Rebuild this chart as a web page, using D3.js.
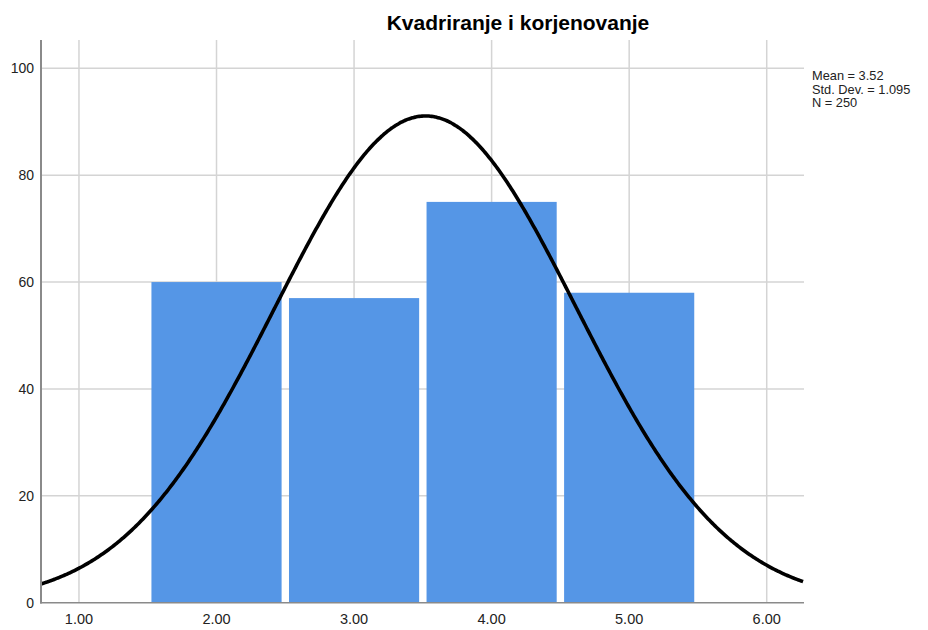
<!DOCTYPE html>
<html><head><meta charset="utf-8">
<script src="https://cdn.jsdelivr.net/npm/d3@7"></script>
<style>body{margin:0;background:#fff}svg{display:block}text{font-family:Arial,"Liberation Sans",sans-serif}</style>
</head><body><svg id="c" width="928" height="630"></svg>
<script>
const binCenters = [2, 3, 4, 5];
const counts = [60, 57, 75, 58];
const xTicks = [1, 2, 3, 4, 5, 6];
const yTicks = [0, 20, 40, 60, 80, 100];
const stats = {mean: 3.52, sd: 1.095, n: 250};
const legendLines = ["Mean = 3.52", "Std. Dev. = 1.095", "N = 250"];
const title = "Kvadriranje i korjenovanje";

const svg = d3.select("#c");
const x = d3.scaleLinear().domain([0.724, 6.271]).range([41, 804]);
const y = d3.scaleLinear().domain([0, 100]).range([602.7, 68.3]);

// gridlines
svg.append("g").selectAll("line").data(yTicks.filter(d=>d>0)).join("line")
  .attr("x1", 41).attr("x2", 804).attr("y1", d=>y(d)).attr("y2", d=>y(d))
  .attr("stroke", "#d4d4d4").attr("stroke-width", 1.5);
svg.append("g").selectAll("line").data(xTicks).join("line")
  .attr("x1", d=>x(d)).attr("x2", d=>x(d)).attr("y1", 40).attr("y2", 602.7)
  .attr("stroke", "#d4d4d4").attr("stroke-width", 1.5);

// bars
const inset = 3.7;
svg.append("g").selectAll("rect").data(binCenters).join("rect")
  .attr("x", (d)=>x(d-0.5)+inset)
  .attr("width", (d)=>x(d+0.5)-x(d-0.5)-2*inset)
  .attr("y", (d,i)=>y(counts[i]))
  .attr("height", (d,i)=>y(0)-y(counts[i]))
  .attr("fill", "#5596e6");

// normal curve from stated stats
const bw = 1;
const xs = d3.range(0.724, 6.2711, 0.01);
const pts = xs.map(v => [v, stats.n*bw/(stats.sd*Math.sqrt(2*Math.PI))*Math.exp(-0.5*((v-stats.mean)/stats.sd)**2)]);
svg.append("path").datum(pts)
  .attr("d", d3.line().x(d=>x(d[0])).y(d=>y(d[1])).curve(d3.curveBasis))
  .attr("fill", "none").attr("stroke", "#000").attr("stroke-width", 3.6);

// axes
svg.append("line").attr("x1", 41).attr("x2", 41).attr("y1", 40).attr("y2", 603.5)
  .attr("stroke", "#8a8a8a").attr("stroke-width", 2);
svg.append("line").attr("x1", 40).attr("x2", 804).attr("y1", 602.7).attr("y2", 602.7)
  .attr("stroke", "#8a8a8a").attr("stroke-width", 1.5);

svg.append("g").selectAll("text").data(yTicks).join("text")
  .attr("x", 34).attr("y", d=>y(d)+5).attr("text-anchor", "end")
  .attr("font-size", 14).attr("fill", "#222").text(d=>d);
svg.append("g").selectAll("text").data(xTicks).join("text")
  .attr("x", d=>x(d)).attr("y", 624).attr("text-anchor", "middle")
  .attr("font-size", 14.5).attr("fill", "#222").text(d=>d3.format(".2f")(d));

svg.append("text").attr("x", 518).attr("y", 30).attr("text-anchor", "middle")
  .attr("font-size", 21).attr("font-weight", "bold").attr("fill", "#000").text(title);

svg.append("g").selectAll("text").data(legendLines).join("text")
  .attr("x", 812).attr("y", (d,i)=>80+i*13.5).attr("font-size", 12.8)
  .attr("fill", "#222").text(d=>d);
</script></body></html>
